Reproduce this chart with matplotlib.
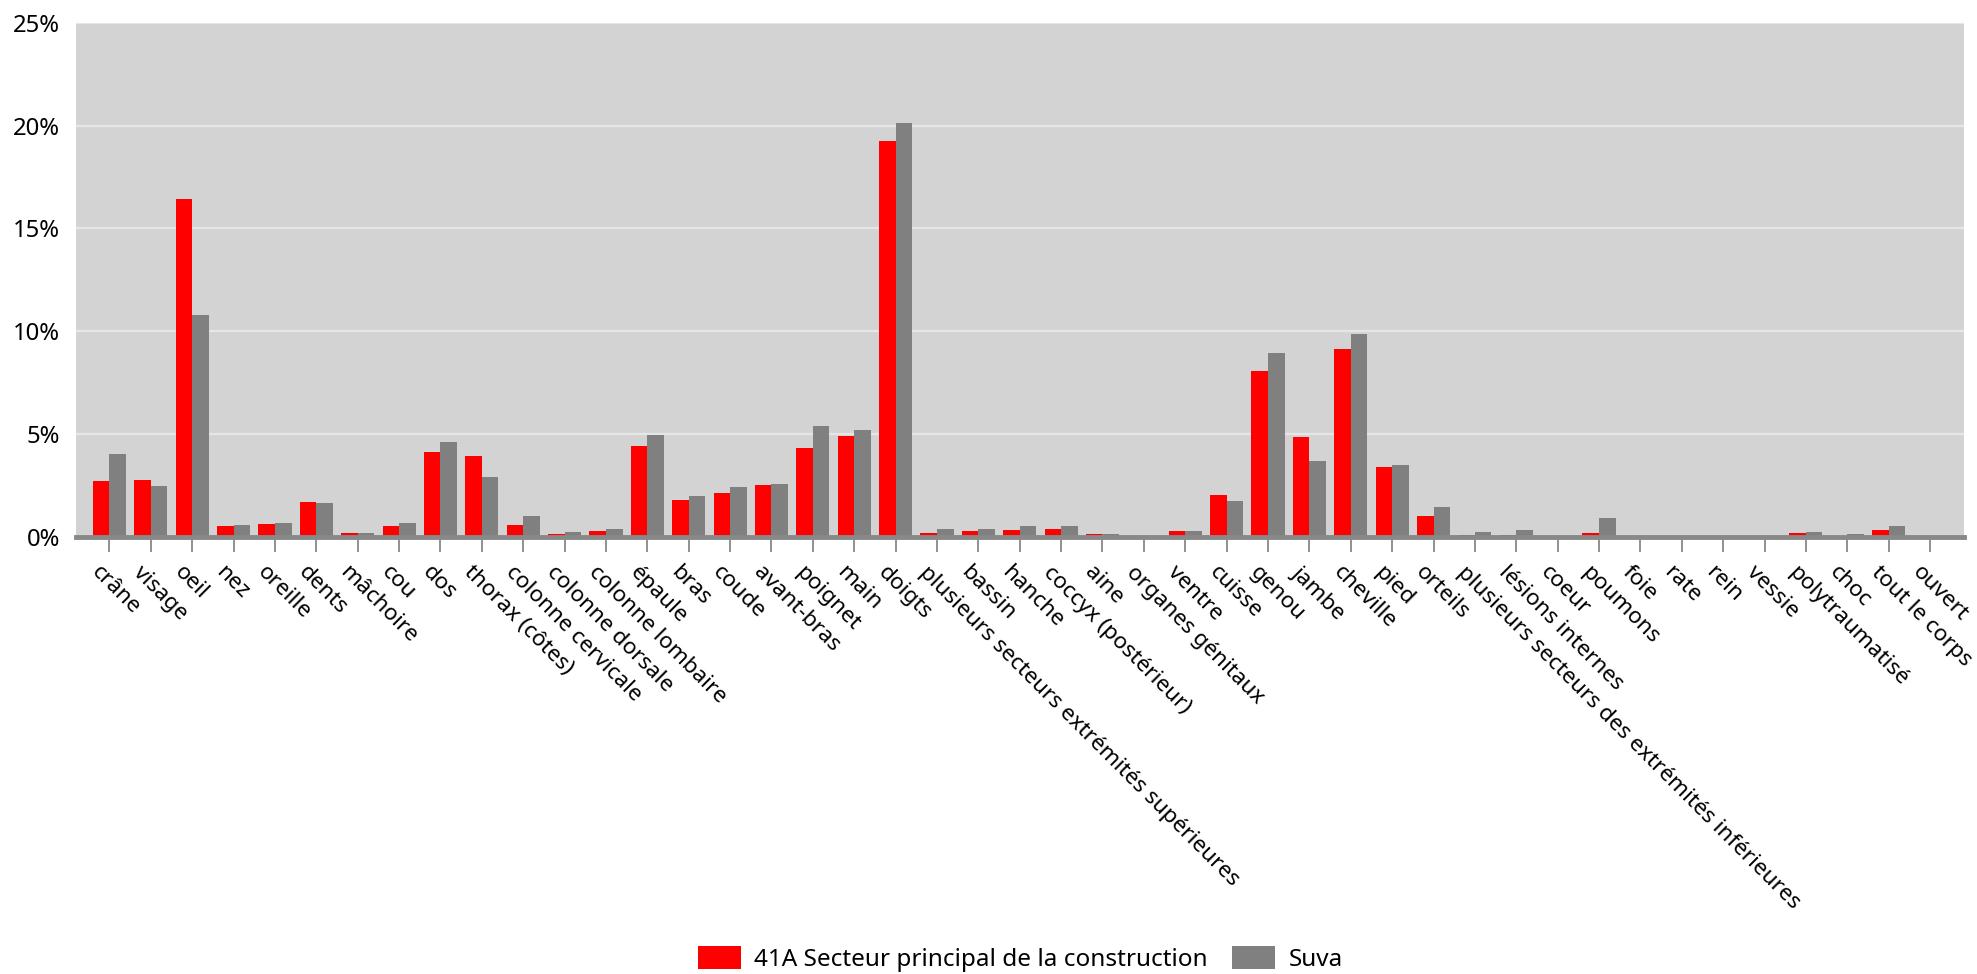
import numpy as np
import matplotlib
matplotlib.use("Agg")
import matplotlib.pyplot as plt
import matplotlib.transforms as mtransforms
from matplotlib.ticker import FuncFormatter

plt.rcParams['font.family'] = ['Noto Sans', 'DejaVu Sans']

categories = [
    "crâne", "visage", "oeil", "nez", "oreille", "dents", "mâchoire", "cou", "dos",
    "thorax (côtes)", "colonne cervicale", "colonne dorsale", "colonne lombaire",
    "épaule", "bras", "coude", "avant-bras", "poignet", "main", "doigts",
    "plusieurs secteurs extrémités supérieures", "bassin", "hanche",
    "coccyx (postérieur)", "aine", "organes génitaux", "ventre", "cuisse", "genou",
    "jambe", "cheville", "pied", "orteils",
    "plusieurs secteurs des extrémités inférieures", "lésions internes", "coeur",
    "poumons", "foie", "rate", "rein", "vessie", "polytraumatisé", "choc",
    "tout le corps", "ouvert",
]

# percentages
construction = [
    2.73, 2.78, 16.42, 0.52, 0.63, 1.70, 0.19, 0.52, 4.14,
    3.94, 0.58, 0.16, 0.29,
    4.42, 1.79, 2.15, 2.53, 4.33, 4.92, 19.24,
    0.20, 0.28, 0.33,
    0.38, 0.13, 0.03, 0.30, 2.02, 8.08,
    4.87, 9.12, 3.39, 1.02,
    0.08, 0.08, 0.0,
    0.18, 0.0, 0.0, 0.0, 0.0, 0.18, 0.05,
    0.34, 0.05,
]
suva = [
    4.03, 2.48, 10.78, 0.58, 0.67, 1.66, 0.18, 0.68, 4.63,
    2.91, 1.01, 0.24, 0.39,
    4.94, 2.0, 2.45, 2.58, 5.38, 5.2, 20.1,
    0.41, 0.39, 0.54,
    0.52, 0.15, 0.01, 0.30, 1.77, 8.93,
    3.67, 9.86, 3.52, 1.48,
    0.23, 0.34, 0.0,
    0.92, 0.0, 0.0, 0.0, 0.0, 0.25, 0.13,
    0.52, 0.0,
]

red = "#ff0000"
grey = "#808080"

fig = plt.figure(figsize=(19.77, 9.74), dpi=100)
ax = fig.add_axes([0.0382, 0.4487, 0.9552, 0.528])
ax.set_facecolor("#d3d3d3")

x = np.arange(len(categories))
w = 0.4
ax.bar(x - w / 2, construction, width=w, color=red, label="41A Secteur principal de la construction", zorder=3)
ax.bar(x + w / 2, suva, width=w, color=grey, label="Suva", zorder=3)

ax.set_xlim(-0.82, len(categories) - 1 + 0.82)
ax.set_ylim(0, 25)
ax.set_yticks(np.arange(0, 26, 5))
ax.yaxis.set_major_formatter(FuncFormatter(lambda v, p: f"{v:.0f}%"))
ax.grid(axis="y", color="#e6e6e6", lw=1.6, zorder=1)

ax.set_xticks(x)
ax.set_xticklabels(categories, rotation=-45, ha="left", va="top",
                   rotation_mode="anchor", fontsize=16.2)
ax.tick_params(axis="x", length=11, width=1.3, color="#888888", pad=7)
ax.tick_params(axis="y", length=0, labelsize=17.2, pad=11)

# nudge the rotated labels a little to the left, like the original
shift = mtransforms.ScaledTranslation(-7 / 100, 0, fig.dpi_scale_trans)
for lbl in ax.get_xticklabels():
    lbl.set_transform(lbl.get_transform() + shift)

for s in ["top", "right", "left"]:
    ax.spines[s].set_visible(False)
ax.spines["bottom"].set_color("#888888")
ax.spines["bottom"].set_linewidth(3.5)
ax.spines["bottom"].set_zorder(4)

fig.legend(loc="center", bbox_to_anchor=(0.516, 0.0155), ncol=2,
           frameon=False, fontsize=17.5, handlelength=1.77, handleheight=1.1,
           columnspacing=1.0, handletextpad=0.55, borderpad=0)

fig.savefig("out.png", dpi=100)
